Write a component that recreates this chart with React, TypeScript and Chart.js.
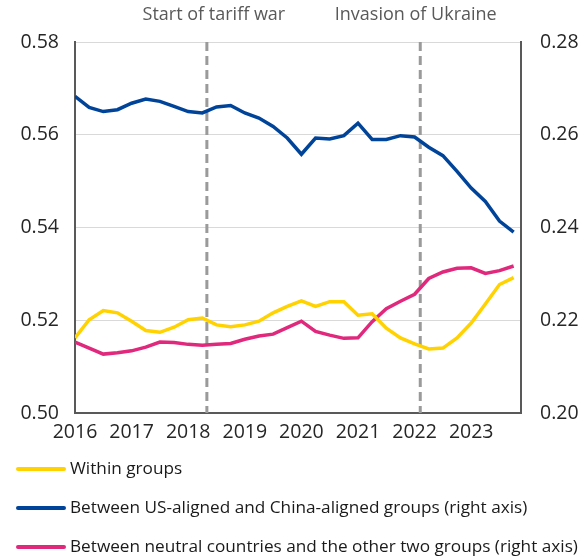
import React, { useEffect, useRef } from "react";
import { Chart, registerables } from "chart.js";

Chart.register(...registerables);

const quarters = [
  "2016Q1", "2016Q2", "2016Q3", "2016Q4",
  "2017Q1", "2017Q2", "2017Q3", "2017Q4",
  "2018Q1", "2018Q2", "2018Q3", "2018Q4",
  "2019Q1", "2019Q2", "2019Q3", "2019Q4",
  "2020Q1", "2020Q2", "2020Q3", "2020Q4",
  "2021Q1", "2021Q2", "2021Q3", "2021Q4",
  "2022Q1", "2022Q2", "2022Q3", "2022Q4",
  "2023Q1", "2023Q2", "2023Q3", "2023Q4",
];

const withinGroups = [
  0.5162, 0.5201, 0.5221, 0.5216, 0.5198, 0.5178, 0.5174, 0.5185,
  0.5201, 0.5205, 0.519, 0.5186, 0.519, 0.5198, 0.5216, 0.523,
  0.5242, 0.523, 0.524, 0.524, 0.5211, 0.5214, 0.5183, 0.5162,
  0.5149, 0.5138, 0.514, 0.5162, 0.5194, 0.5235, 0.5277, 0.5292,
];

const usChina = [
  0.2683, 0.2659, 0.265, 0.2654, 0.2668, 0.2677, 0.2672, 0.2661,
  0.265, 0.2647, 0.266, 0.2663, 0.2647, 0.2636, 0.2618, 0.2593,
  0.2558, 0.2593, 0.2591, 0.2598, 0.2625, 0.259, 0.259, 0.2598,
  0.2595, 0.2573, 0.2555, 0.2521, 0.2485, 0.2456, 0.2414, 0.239,
];

const neutralOthers = [
  0.2153, 0.214, 0.2127, 0.213, 0.2134, 0.2142, 0.2153, 0.2152,
  0.2148, 0.2146, 0.2148, 0.215, 0.2159, 0.2166, 0.217, 0.2184,
  0.2198, 0.2176, 0.2168, 0.2161, 0.2162, 0.2197, 0.2225, 0.2241,
  0.2256, 0.229, 0.2304, 0.2312, 0.2313, 0.2301, 0.2307, 0.2317,
];

const seriesLabels = [
  "Within groups",
  "Between US-aligned and China-aligned groups (right axis)",
  "Between neutral countries and the other two groups (right axis)",
];

const eventLabels = ["Start of tariff war", "Invasion of Ukraine"];
const eventDates = [2018.33, 2022.1];

const xTickYears = [2016, 2017, 2018, 2019, 2020, 2021, 2022, 2023];

const FONT = "'Open Sans', sans-serif";

function quarterToNum(q: string): number {
  const y = parseInt(q.slice(0, 4), 10);
  const n = parseInt(q.slice(5), 10);
  return y + (n - 1) / 4;
}

function toPoints(vals: number[]) {
  return vals.map((v, i) => ({ x: quarterToNum(quarters[i]), y: v }));
}

export default function App() {
  const canvasRef = useRef<HTMLCanvasElement | null>(null);

  useEffect(() => {
    document.body.style.margin = "0";
    const canvas = canvasRef.current;
    if (!canvas) return;

    const eventPlugin = {
      id: "events",
      beforeDatasetsDraw(chart: any) {
        const { ctx, chartArea, scales } = chart;
        ctx.save();
        ctx.strokeStyle = "#9a9a9a";
        ctx.lineWidth = 3;
        ctx.setLineDash([9, 5]);
        eventDates.forEach((d) => {
          const px = scales.x.getPixelForValue(d);
          ctx.beginPath();
          ctx.moveTo(px, chartArea.top);
          ctx.lineTo(px, chartArea.bottom);
          ctx.stroke();
        });
        ctx.restore();
      },
      afterDraw(chart: any) {
        const { ctx, scales } = chart;
        ctx.save();
        ctx.fillStyle = "#595959";
        ctx.font = `18px ${FONT}`;
        ctx.textAlign = "center";
        ctx.textBaseline = "alphabetic";
        const offs = [7, -4.5];
        eventDates.forEach((d, i) => {
          const px = scales.x.getPixelForValue(d);
          ctx.fillText(eventLabels[i], px + offs[i], 20);
        });
        ctx.restore();
      },
    };

    const legendPlugin = {
      id: "customLegend",
      afterDraw(chart: any) {
        const { ctx } = chart;
        ctx.save();
        chart.data.datasets.forEach((ds: any, i: number) => {
          const y = 469 + i * 39;
          ctx.strokeStyle = ds.borderColor;
          ctx.lineWidth = 4;
          ctx.lineCap = "round";
          ctx.beginPath();
          ctx.moveTo(18, y);
          ctx.lineTo(64, y);
          ctx.stroke();
          ctx.fillStyle = "#1a1a1a";
          ctx.font = `17.2px ${FONT}`;
          ctx.textAlign = "left";
          ctx.textBaseline = "middle";
          ctx.fillText(ds.label, 70, y);
        });
        ctx.restore();
      },
    };

    const tickFont = { family: FONT, size: 19.5 };

    const chart = new Chart(canvas, {
      type: "line",
      data: {
        datasets: [
          {
            label: seriesLabels[0],
            data: toPoints(withinGroups),
            borderColor: "#FFD200",
            backgroundColor: "#FFD200",
            borderWidth: 3.5,
            pointRadius: 0,
            tension: 0,
            yAxisID: "y",
          },
          {
            label: seriesLabels[1],
            data: toPoints(usChina),
            borderColor: "#00449A",
            backgroundColor: "#00449A",
            borderWidth: 3.5,
            pointRadius: 0,
            tension: 0,
            yAxisID: "y1",
          },
          {
            label: seriesLabels[2],
            data: toPoints(neutralOthers),
            borderColor: "#E0287D",
            backgroundColor: "#E0287D",
            borderWidth: 3.5,
            pointRadius: 0,
            tension: 0,
            yAxisID: "y1",
          },
        ],
      },
      options: {
        responsive: false,
        animation: false,
        layout: { padding: { top: 42, left: 0, right: 0, bottom: 0 } },
        plugins: {
          legend: { display: false },
          tooltip: { enabled: false },
        },
        scales: {
          x: {
            type: "linear",
            min: 2016,
            max: 2023.88,
            afterBuildTicks(scale: any) {
              scale.ticks = xTickYears.map((v) => ({ value: v }));
            },
            afterFit(scale: any) {
              scale.height = 145;
            },
            grid: { display: false, drawTicks: false },
            border: { display: true, color: "#595959", width: 2 },
            ticks: {
              font: tickFont,
              color: "#262626",
              padding: 8,
              maxRotation: 0,
              autoSkip: false,
              callback: (v: any) => String(v),
            },
          },
          y: {
            type: "linear",
            position: "left",
            min: 0.5,
            max: 0.58,
            afterFit(scale: any) {
              scale.width = 75;
            },
            grid: { color: "#d9d9d9", lineWidth: 1, drawTicks: false },
            border: { display: true, color: "#595959", width: 2 },
            ticks: {
              stepSize: 0.02,
              font: tickFont,
              color: "#262626",
              padding: 16,
              callback: (v: any) => Number(v).toFixed(2),
            },
          },
          y1: {
            type: "linear",
            position: "right",
            min: 0.2,
            max: 0.28,
            afterFit(scale: any) {
              scale.width = 66;
            },
            grid: { drawOnChartArea: false, drawTicks: false },
            border: { display: true, color: "#595959", width: 2 },
            ticks: {
              stepSize: 0.02,
              font: tickFont,
              color: "#262626",
              padding: 19,
              callback: (v: any) => Number(v).toFixed(2),
            },
          },
        },
      },
      plugins: [eventPlugin, legendPlugin],
    } as any);

    return () => {
      chart.destroy();
    };
  }, []);

  return (
    <div style={{ width: 587, height: 558, position: "relative" }}>
      <canvas ref={canvasRef} width={587} height={558} />
    </div>
  );
}
